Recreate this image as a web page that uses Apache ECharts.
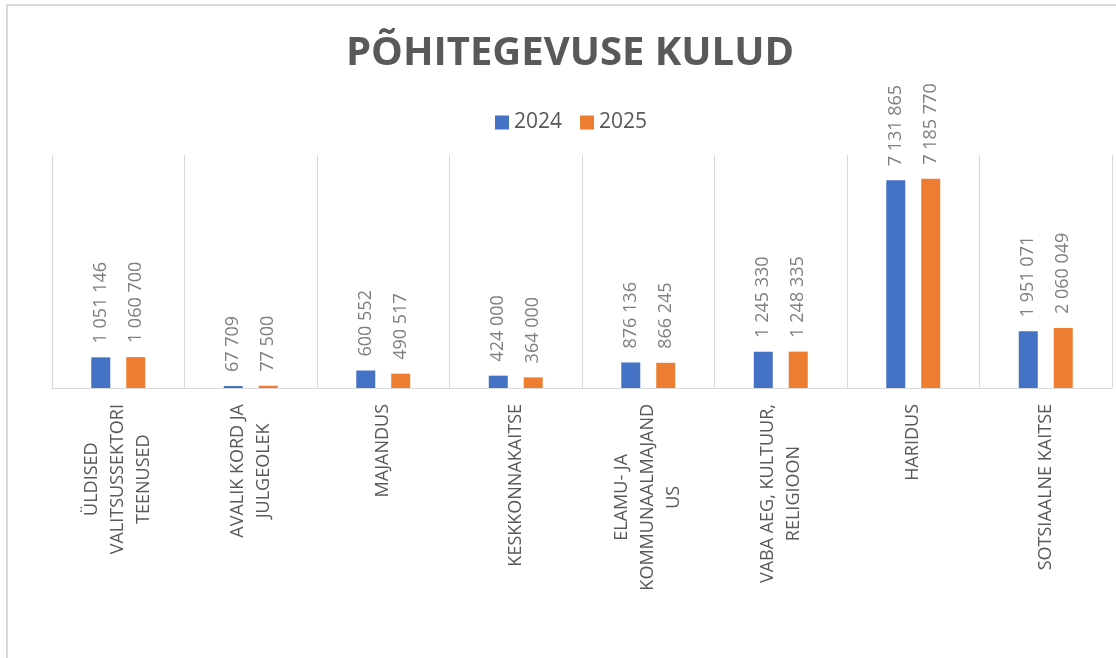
<!DOCTYPE html>
<html>
<head>
<meta charset="utf-8">
<script src="https://cdn.jsdelivr.net/npm/echarts@6/dist/echarts.min.js"></script>
<style>
  html, body { margin: 0; padding: 0; background: #fff; overflow: hidden; }
  #frame { position: absolute; left: 6px; top: 4px; width: 1200px; height: 800px; border: 2px solid #d9d9d9; }
  #chart { position: absolute; left: 0; top: 0; width: 1116px; height: 658px; }
</style>
</head>
<body>
<div id="frame"></div>
<div id="chart"></div>
<script>
const categories = [
  "ÜLDISED\nVALITSUSSEKTORI\nTEENUSED",
  "AVALIK KORD JA\nJULGEOLEK",
  "MAJANDUS",
  "KESKKONNAKAITSE",
  "ELAMU- JA\nKOMMUNAALMAJAND\nUS",
  "VABA AEG, KULTUUR,\nRELIGIOON",
  "HARIDUS",
  "SOTSIAALNE KAITSE"
];
const values2024 = [1051146, 67709, 600552, 424000, 876136, 1245330, 7131865, 1951071];
const values2025 = [1060700, 77500, 490517, 364000, 866245, 1248335, 7185770, 2060049];
const seriesNames = ["2024", "2025"];

const font = "Open Sans";

function fmt(n) {
  return String(n).replace(/\B(?=(\d{3})+(?!\d))/g, " ");
}

const valueLabel = {
  show: true,
  position: "top",
  rotate: 90,
  align: "left",
  verticalAlign: "middle",
  distance: 14,
  fontFamily: font,
  fontSize: 18,
  color: "#7f7f7f",
  formatter: p => fmt(p.value)
};

const chart = echarts.init(document.getElementById("chart"));
chart.setOption({
  animation: false,
  title: {
    text: "PÕHITEGEVUSE KULUD",
    left: 565,
    textAlign: "center",
    top: 29,
    textStyle: {
      fontFamily: font,
      fontSize: 40,
      fontWeight: "bold",
      color: "#595959"
    }
  },
  legend: {
    data: seriesNames,
    top: 107,
    left: 490,
    icon: "rect",
    itemWidth: 14,
    itemHeight: 14,
    itemGap: 18,
    textStyle: {
      fontFamily: font,
      fontSize: 21,
      color: "#595959"
    }
  },
  grid: {
    left: 52,
    right: 4,
    top: 155,
    bottom: 270
  },
  xAxis: {
    type: "category",
    data: categories,
    axisTick: { show: false },
    axisLine: { lineStyle: { color: "#d9d9d9", width: 1 } },
    splitLine: { show: true, lineStyle: { color: "#d9d9d9", width: 1 } },
    axisLabel: {
      interval: 0,
      rotate: 90,
      margin: 16,
      formatter: v => v.split("\n").map(s => "{c|" + s + "}").join("\n"),
      rich: {
        c: {
          align: "center",
          fontFamily: font,
          fontSize: 18,
          lineHeight: 26,
          color: "#595959"
        }
      }
    }
  },
  yAxis: {
    type: "value",
    min: 0,
    max: 8000000,
    show: false
  },
  series: [
    {
      name: seriesNames[0],
      type: "bar",
      data: values2024,
      barWidth: 19,
      barGap: "84%",
      itemStyle: { color: "#4472C4" },
      label: valueLabel
    },
    {
      name: seriesNames[1],
      type: "bar",
      data: values2025,
      barWidth: 19,
      barGap: "84%",
      itemStyle: { color: "#ED7D31" },
      label: valueLabel
    }
  ]
});
</script>
</body>
</html>
